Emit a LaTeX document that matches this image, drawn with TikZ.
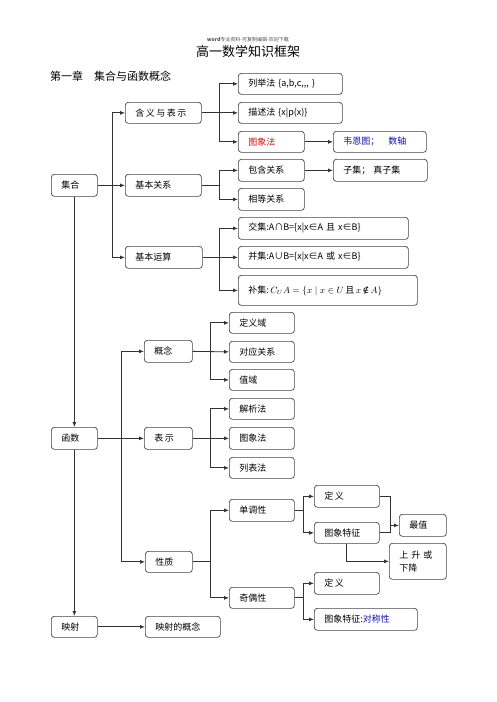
\documentclass[tikz,border=0pt]{standalone}
\usepackage{fontspec}
\usetikzlibrary{arrows.meta}
\newfontfamily\cjk{Noto Sans CJK SC}
\newfontfamily\dvs{DejaVu Serif}
\definecolor{ln}{HTML}{333333}
\definecolor{bd}{HTML}{444444}
\definecolor{redt}{HTML}{D01010}
\definecolor{bluet}{HTML}{1010B0}
\newcommand{\mybox}[7][]{%
  \pgfmathsetmacro\bw{#5-#3}\pgfmathsetmacro\bh{#6-#4}\pgfmathsetmacro\tw{#5-#3-20}%
  \node[bx,#1,anchor=north west,minimum width=\bw pt,minimum height=\bh pt,text width=\tw pt] (#2) at (#3,#4) {#7};}
\begin{document}
\begin{tikzpicture}[x=1pt,y=-1pt,
  bx/.style={draw=bd,line width=0.7pt,rounded corners=3pt,inner xsep=10pt,inner ysep=1pt,align=left,font=\cjk\fontsize{9}{13}\selectfont,fill=white},
  arr/.style={draw=ln,line width=0.8pt,-{Latex[length=5pt,width=4pt]}},
  ln/.style={draw=ln,line width=0.8pt}]
\useasboundingbox (0,0) rectangle (496,702);
\node[font=\cjk\fontsize{5}{6}\selectfont,text=black!70] (hdr) at (248,40) {\textbf{word}专业资料-可复制编辑-欢迎下载};
\node[font=\cjk\fontsize{13}{15}\selectfont] (title) at (248,52) {高一数学知识框架};
\node[font=\cjk\fontsize{11}{13}\selectfont,anchor=west,inner sep=0pt] (chap) at (50,76) {第一章\quad 集合与函数概念};
% set section
\mybox{hy}{125}{102}{201}{123}{含\,义\,与\,表\,示}
\mybox{lj}{238}{73}{342}{94}{列举法 \{a,b,c,,,\ \}}
\mybox{ms}{238}{102}{342}{123}{描述法 \{x|p(x)\}}
\mybox[text=redt]{tx}{238}{131}{304}{152}{图象法}
\mybox[text=bluet]{wn}{333}{131}{426}{152}{韦恩图；\quad 数轴}
\mybox{jh}{51}{174}{97}{196}{集合}
\mybox{gx}{125}{174}{201}{196}{基本关系}
\mybox{bh}{238}{159}{304}{181}{包含关系}
\mybox{zj}{333}{159}{427}{181}{子集；\ 真子集}
\mybox{xd}{238}{188}{304}{210}{相等关系}
\mybox{ys}{125}{246}{202}{268}{基本运算}
\mybox{jiao}{238}{217}{408}{239}{交集:A∩B=\{x|x∈A 且 x∈B\}}
\mybox{bing}{238}{246}{408}{268}{并集:A∪B=\{x|x∈A 或 x∈B\}}
\mybox{bu}{238}{275}{417}{305}{补集:\,$C_U A=\{x\mid x\in U$\,且\,$x$\,{\dvs ∉}\,$A\}$}
% function section
\mybox{hs}{51}{427}{97}{449}{函数}
\mybox{gn}{144}{340}{192}{362}{概念}
\mybox{bs}{144}{427}{192}{449}{表\,示}
\mybox{xz}{145}{551}{192}{572}{性质}
\mybox{dyy}{229}{312}{294}{333}{定义域}
\mybox{dy}{229}{341}{294}{362}{对应关系}
\mybox{zy}{229}{369}{294}{390}{值域}
\mybox{jx}{229}{398}{294}{419}{解析法}
\mybox{txf}{229}{427}{294}{449}{图象法}
\mybox{lb}{229}{457}{294}{478}{列表法}
\mybox{dd}{229}{499}{294}{521}{单调性}
\mybox{dyA}{314}{485}{379}{507}{定\,义}
\mybox{tzA}{314}{522}{379}{543}{图象特征}
\mybox{zz}{399}{514}{446}{536}{最值}
\mybox{ss}{389}{543}{446}{579}{上 升 或\\下降}
\mybox{jo}{229}{587}{294}{608}{奇偶性}
\mybox{dyB}{314}{572}{379}{594}{定\,义}
\mybox{tzB}{314}{608}{417}{630}{图象特征:\textcolor{bluet}{对称性}}
\mybox{ysh}{51}{616}{97}{637}{映射}
\mybox{ysg}{145}{616}{220}{637}{映射的概念}
% branch coordinates
\coordinate (t1) at (112,0);
\coordinate (b1) at (219,0);
\coordinate (t2) at (121.5,0);
\coordinate (b2) at (210,0);
\coordinate (b3) at (303,0);
\coordinate (b4) at (390,0);
% set connectors
\draw[arr] (jh.east) -- (gx.west);
\draw[arr] (jh.east -| t1) |- (hy.west);
\draw[arr] (jh.east -| t1) |- (ys.west);
\draw[arr] (hy.east) -- (ms.west);
\draw[arr] (hy.east -| b1) |- (lj.west);
\draw[arr] (hy.east -| b1) |- (tx.west);
\draw[arr] (tx.east) -- (wn.west);
\draw[ln] (gx.east) -- (gx.east -| b1);
\draw[arr] (gx.east -| b1) |- (bh.west);
\draw[arr] (gx.east -| b1) |- (xd.west);
\draw[arr] (bh.east) -- (zj.west);
\draw[arr] (ys.east) -- (bing.west);
\draw[arr] (ys.east -| b1) |- (jiao.west);
\draw[arr] (ys.east -| b1) |- (bu.west);
\draw[arr] (jh.south) -- (hs.north);
% function connectors
\draw[arr] (hs.east) -- (bs.west);
\draw[arr] (hs.east -| t2) |- (gn.west);
\draw[arr] (hs.east -| t2) |- (xz.west);
\draw[arr] (gn.east) -- (dy.west);
\draw[arr] (gn.east -| b2) |- (dyy.west);
\draw[arr] (gn.east -| b2) |- (zy.west);
\draw[arr] (bs.east) -- (txf.west);
\draw[arr] (bs.east -| b2) |- (jx.west);
\draw[arr] (bs.east -| b2) |- (lb.west);
\draw[ln] (xz.east) -- (xz.east -| b2);
\draw[arr] (xz.east -| b2) |- (dd.west);
\draw[arr] (xz.east -| b2) |- (jo.west);
\draw[ln] (dd.east) -- (dd.east -| b3);
\draw[arr] (dd.east -| b3) |- (dyA.west);
\draw[arr] (dd.east -| b3) |- (tzA.west);
\draw[ln] (dyA.east) -- (dyA.east -| b4) -- (tzA.east -| b4) -- (tzA.east);
\draw[arr] (zz.west -| b4) -- (zz.west);
\draw[arr] (tzA.south) |- (ss.west);
\draw[ln] (jo.east) -- (jo.east -| b3);
\draw[arr] (jo.east -| b3) |- (dyB.west);
\draw[arr] (jo.east -| b3) |- (tzB.west);
\draw[arr] (hs.south) -- (ysh.north);
\draw[arr] (ysh.east) -- (ysg.west);
\end{tikzpicture}
\end{document}
